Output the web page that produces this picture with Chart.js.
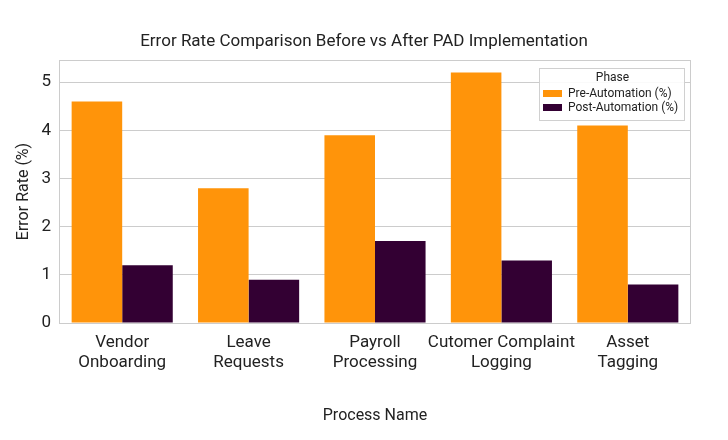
<!DOCTYPE html>
<html><head><meta charset="utf-8">
<script src="https://cdn.jsdelivr.net/npm/chart.js@4"></script>
<style>html,body{margin:0;padding:0;background:#fff;}#wrap{width:728px;height:440px;}</style>
</head><body><div id="wrap"><canvas id="c" width="728" height="440"></canvas></div>
<script>
const categories = [["Vendor","Onboarding"],["Leave","Requests"],["Payroll","Processing"],["Cutomer Complaint","Logging"],["Asset","Tagging"]];
const preAutomation = [4.6, 2.8, 3.9, 5.2, 4.1];
const postAutomation = [1.2, 0.9, 1.7, 1.3, 0.8];
const seriesNames = ["Pre-Automation (%)", "Post-Automation (%)"];
const yTicks = [0, 1, 2, 3, 4, 5];
const yMax = 5.46;
const chartTitle = 'Error Rate Comparison Before vs After PAD Implementation';

const FONT = "Roboto";
const TXT = "#222";

const framePlugin = {
  id: 'frame',
  afterDraw(chart) {
    const {ctx, chartArea: a} = chart;
    ctx.save();
    // title centred on the canvas
    ctx.fillStyle = TXT;
    ctx.font = `17px ${FONT}`;
    ctx.textAlign = 'center';
    ctx.textBaseline = 'middle';
    ctx.fillText(chartTitle, chart.width / 2, 42);
    // plot frame
    ctx.strokeStyle = '#cccccc';
    ctx.lineWidth = 1;
    ctx.strokeRect(Math.round(a.left) + 0.5, Math.round(a.top) + 0.5, Math.round(a.right - a.left) - 1, Math.round(a.bottom - a.top));
    // legend
    const x = 539, y = 68, w = 145, h = 52;
    ctx.fillStyle = 'rgba(255,255,255,0.9)';
    ctx.fillRect(x, y, w, h);
    ctx.strokeStyle = '#d0d0d0';
    ctx.strokeRect(x + 0.5, y + 0.5, w, h);
    ctx.fillStyle = TXT;
    ctx.font = `12px ${FONT}`;
    ctx.textBaseline = 'middle';
    ctx.textAlign = 'center';
    ctx.fillText('Phase', x + w / 2 + 1, y + 10);
    ctx.textAlign = 'left';
    chart.data.datasets.forEach((ds, i) => {
      const yy = y + 25 + i * 14;
      ctx.fillStyle = ds.backgroundColor;
      ctx.fillRect(x + 4, yy - 3, 19, 7);
      ctx.fillStyle = TXT;
      ctx.fillText(ds.label, x + 29, yy + 1);
    });
    ctx.restore();
  }
};

new Chart(document.getElementById('c'), {
  type: 'bar',
  data: {
    labels: categories,
    datasets: [
      {label: seriesNames[0], data: preAutomation, backgroundColor: '#FF940A'},
      {label: seriesNames[1], data: postAutomation, backgroundColor: '#330033'}
    ]
  },
  options: {
    responsive: false,
    animation: false,
    devicePixelRatio: 1,
    layout: {padding: {left: 10, right: 37, top: 60, bottom: 10}},
    categoryPercentage: 0.8,
    barPercentage: 1.0,
    plugins: {
      legend: {display: false},
      tooltip: {enabled: false},
      title: {display: false}
    },
    scales: {
      x: {
        grid: {display: false, drawTicks: false},
        border: {display: false},
        ticks: {color: TXT, font: {family: FONT, size: 17, lineHeight: 1.18}, padding: 10, maxRotation: 0, autoSkip: false},
        title: {display: true, text: 'Process Name', color: TXT, font: {family: FONT, size: 16}, padding: {top: 28}},
        afterFit(s) { s.height = 440 - 323 - 10; }
      },
      y: {
        min: 0, max: yMax,
        grid: {color: '#cccccc', drawTicks: false},
        border: {display: false},
        afterBuildTicks(s) { s.ticks = yTicks.map(v => ({value: v})); },
        ticks: {color: TXT, font: {family: FONT, size: 17}, padding: 8, includeBounds: false},
        title: {display: true, text: 'Error Rate (%)', color: TXT, font: {family: FONT, size: 16}, padding: {bottom: 4}},
        afterFit(s) { s.width = 59 - 10; }
      }
    }
  },
  plugins: [framePlugin]
});
</script></body></html>
